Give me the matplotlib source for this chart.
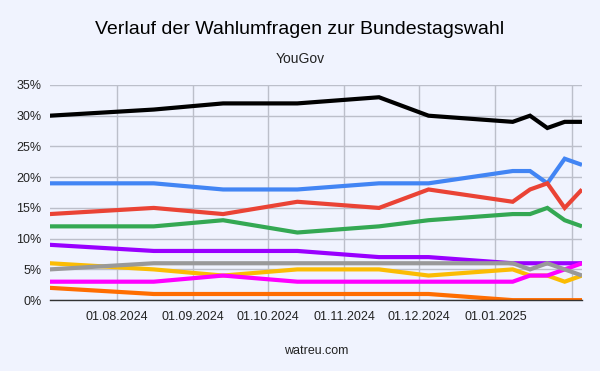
import pandas as pd
import matplotlib
matplotlib.use("Agg")
import matplotlib.pyplot as plt
import matplotlib.dates as mdates
from matplotlib.ticker import FuncFormatter

# Umfragetermine (YouGov)
dates = pd.to_datetime([
    "2024-07-05", "2024-08-16", "2024-09-13", "2024-10-13", "2024-11-15",
    "2024-12-05", "2025-01-08", "2025-01-15", "2025-01-22", "2025-01-29",
    "2025-02-05",
])

# Werte in Prozent
cdu = [30, 31, 32, 32, 33, 30, 29, 30, 28, 29, 29]
afd = [19, 19, 18, 18, 19, 19, 21, 21, 19, 23, 22]
spd = [14, 15, 14, 16, 15, 18, 16, 18, 19, 15, 18]
gruene = [12, 12, 13, 11, 12, 13, 14, 14, 15, 13, 12]
bsw = [9, 8, 8, 8, 7, 7, 6, 6, 6, 6, 6]
fdp = [6, 5, 4, 5, 5, 4, 5, 4, 4, 3, 4]
linke = [3, 3, 4, 3, 3, 3, 3, 4, 4, 5, 6]
fw = [2, 1, 1, 1, 1, 1, 0, 0, 0, 0, 0]
sonstige = [5, 6, 6, 6, 6, 6, 6, 5, 6, 5, 4]

series = [
    ("CDU/CSU", cdu, "#000000"),
    ("AfD", afd, "#4285F4"),
    ("SPD", spd, "#EA4335"),
    ("Grüne", gruene, "#34A853"),
    ("BSW", bsw, "#9900FF"),
    ("FDP", fdp, "#FBBC04"),
    ("Linke", linke, "#FF00FF"),
    ("Freie Wähler", fw, "#FF6D01"),
    ("Sonstige", sonstige, "#999999"),
]

tick_dates = pd.to_datetime([
    "2024-08-01", "2024-09-01", "2024-10-01", "2024-11-01",
    "2024-12-01", "2025-01-01", "2025-02-01",
])
tick_labels = ["01.08.2024", "01.09.2024", "01.10.2024", "01.11.2024",
               "01.12.2024", "01.01.2025", ""]
y_ticks = [0, 5, 10, 15, 20, 25, 30, 35]

plt.rcParams["font.family"] = ["Liberation Sans", "DejaVu Sans"]
bg = "#f0f3fe"

fig = plt.figure(figsize=(6, 3.71), dpi=100, facecolor=bg)
ax = fig.add_axes([0.083, 0.191, 0.887, 0.580], facecolor=bg)

for name, vals, col in series:
    ax.plot(dates, vals, color=col, lw=3, label=name,
            solid_joinstyle="miter", solid_capstyle="butt", zorder=3)

ax.set_xlim(dates[0], dates[-1])
ax.set_ylim(0, 35)
ax.set_yticks(y_ticks)
ax.yaxis.set_major_formatter(FuncFormatter(lambda v, p: f"{v:.0f}%"))
ax.set_xticks(mdates.date2num(tick_dates))
ax.set_xticklabels(tick_labels)

ax.grid(True, color="#bcbfca", lw=1, zorder=0)
ax.tick_params(length=0, labelsize=9, colors="#222222", pad=8)
ax.tick_params(axis="y", pad=6)
for s in ["top", "right", "left"]:
    ax.spines[s].set_visible(False)
ax.spines["bottom"].set_color("#333333")
ax.spines["bottom"].set_linewidth(1)
ax.spines["bottom"].set_zorder(4)

fig.text(0.5, 0.92, "Verlauf der Wahlumfragen zur Bundestagswahl",
         ha="center", va="center", fontsize=14, color="#000000")
fig.text(0.5, 0.84, "YouGov", ha="center", va="center",
         fontsize=10, color="#222222")
ax.set_xlabel("watreu.com", fontsize=9, color="#222222", labelpad=16)

fig.savefig("out.png", dpi=100, facecolor=bg)
